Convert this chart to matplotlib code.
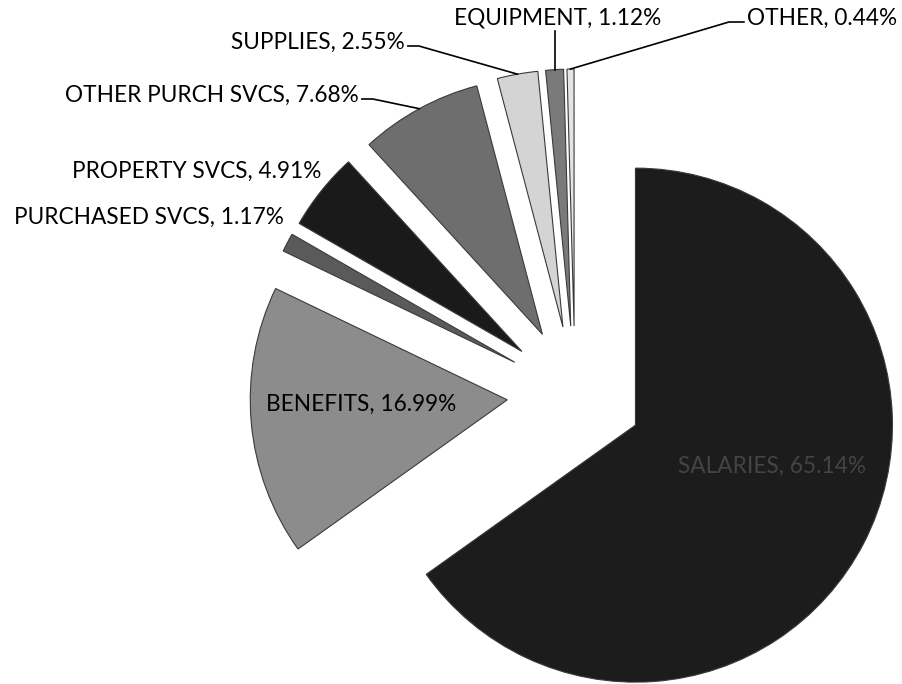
import numpy as np
import matplotlib
matplotlib.use("Agg")
import matplotlib.pyplot as plt

# expense categories, in the order they run clockwise from 12 o'clock
categories = ["SALARIES", "BENEFITS", "PURCHASED SVCS", "PROPERTY SVCS",
              "OTHER PURCH SVCS", "SUPPLIES", "EQUIPMENT", "OTHER"]
shares = [65.14, 16.99, 1.17, 4.91, 7.68, 2.55, 1.12, 0.44]

colors = ["#1c1c1c", "#8c8c8c", "#5a5a5a", "#1a1a1a",
          "#6e6e6e", "#d4d4d4", "#7a7a7a", "#e4e4e4"]

W, H = 903, 684


def px(x, y):
    # pixel position (y down) -> data coords (y up)
    return x, H - y


fig = plt.figure(figsize=(W / 100, H / 100), dpi=100)
ax = fig.add_axes([0, 0, 1, 1])

R = 257
# pie explode is in data units, here pixels
wedges, _ = ax.pie(shares, colors=colors, startangle=90, counterclock=False,
                   explode=[68] * len(shares), radius=R,
                   center=px(575, 394),
                   wedgeprops=dict(edgecolor="#3a3a3a", linewidth=0.8))

ax.set_xlim(0, W)
ax.set_ylim(0, H)
ax.set_aspect("equal")
ax.axis("off")

font = dict(family=["Lato", "DejaVu Sans"], fontsize=16.3, color="black")

# label placement (pixel coords of text centre) and leader line flag
label_pos = {
    "SALARIES": (772, 466, False),
    "BENEFITS": (361, 404, False),
    "PURCHASED SVCS": (149, 217, False),
    "PROPERTY SVCS": (197, 171, False),
    "OTHER PURCH SVCS": (212, 95, True),
    "SUPPLIES": (318, 42, True),
    "EQUIPMENT": (558, 18, True),
    "OTHER": (822, 18, True),
}

renderer = fig.canvas.get_renderer()
inv = ax.transData.inverted()

for w, name, val in zip(wedges, categories, shares):
    x, y, leader = label_pos[name]
    text = f"{name}, {val:.2f}%"
    kw = dict(font)
    if name == "SALARIES":
        kw["color"] = "#444444"
    t = ax.text(*px(x, y), text, ha="center", va="center", **kw)
    if not leader:
        continue
    # outer point of the wedge at its middle angle
    ang = np.deg2rad((w.theta1 + w.theta2) / 2)
    cx, cy = w.center
    tip = (cx + w.r * np.cos(ang), cy + w.r * np.sin(ang))
    (x0, y0), (x1, y1) = inv.transform(t.get_window_extent(renderer))
    ymid = (y0 + y1) / 2 - 4
    if name == "EQUIPMENT":
        ax.plot([tip[0], tip[0]], [tip[1], y0 - 2], color="black", lw=1.2)
    elif name == "OTHER":
        ax.plot([tip[0], x0 - 18, x0 - 3], [tip[1], ymid, ymid],
                color="black", lw=1.2)
    else:
        ax.plot([x1 + 3, x1 + 14, tip[0]], [ymid, ymid, tip[1]],
                color="black", lw=1.2)

fig.savefig("out.png", dpi=100)
